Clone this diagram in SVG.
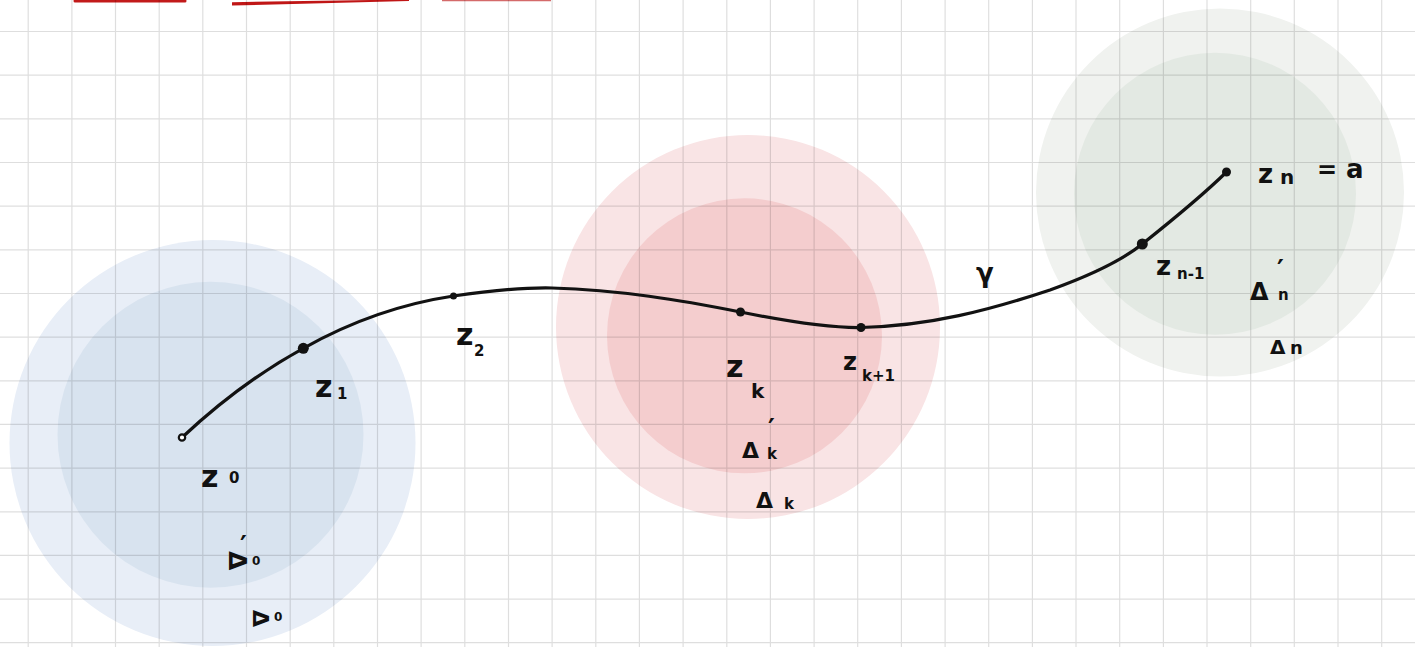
<svg xmlns="http://www.w3.org/2000/svg" width="1415" height="647" viewBox="0 0 1415 647">
<style>
.grid{stroke:rgba(0,0,0,0.13);stroke-width:1.2;fill:none}
.curve{fill:none;stroke:#121212;stroke-width:3.2;stroke-linecap:round}
.pt{fill:#121212}
.lab{font-family:"DejaVu Sans","Liberation Sans",sans-serif;font-weight:bold;fill:#111}
.big{font-size:30px}
.mid{font-size:22px}
.sm{font-size:15px}
.pr{font-size:26px}
</style>
<rect width="1415" height="647" fill="#ffffff"/>
<g id="red-strokes">
<line x1="75" y1="1" x2="185" y2="1" stroke="#c21a1a" stroke-width="3" stroke-linecap="round"/>
<path d="M232,2.2 L409,-0.6 L409,1 L232,5.6 Z" fill="#c01616"/>
<line x1="442" y1="0" x2="551" y2="0" stroke="#d46a6a" stroke-width="2.4"/>
</g>
<g id="disk-0">
<circle cx="212.5" cy="443" r="203" fill="#e8eef7"/>
<circle cx="210.5" cy="434.7" r="153" fill="#d8e3ef"/>
</g>
<g id="disk-k">
<circle cx="748" cy="327" r="192" fill="#f9e4e5"/>
<circle cx="744.5" cy="335.8" r="137.5" fill="#f4cdce"/>
</g>
<g id="disk-n">
<circle cx="1220" cy="192.5" r="184" fill="#f0f2ef"/>
<circle cx="1215" cy="193.7" r="141" fill="#e3e9e3"/>
</g>
<path class="grid" d="M28.2,0V647M71.9,0V647M115.5,0V647M159.2,0V647M202.8,0V647M246.5,0V647M290.2,0V647M333.8,0V647M377.5,0V647M421.1,0V647M464.8,0V647M508.5,0V647M552.1,0V647M595.8,0V647M639.4,0V647M683.1,0V647M726.8,0V647M770.4,0V647M814.1,0V647M857.7,0V647M901.4,0V647M945.1,0V647M988.7,0V647M1032.4,0V647M1076,0V647M1119.7,0V647M1163.4,0V647M1207,0V647M1250.7,0V647M1294.3,0V647M1338,0V647M1381.7,0V647M0,31.5H1415M0,75.2H1415M0,118.8H1415M0,162.5H1415M0,206.1H1415M0,249.8H1415M0,293.5H1415M0,337.1H1415M0,380.8H1415M0,424.4H1415M0,468.1H1415M0,511.8H1415M0,555.4H1415M0,599.1H1415M0,642.7H1415"/>
<g id="connectors">
<path class="curve" d="M182,437.5 C220,402 260,372 303.3,348.3 C350,322 400,304 453.5,296 C490,290.5 525,287.5 552,288 C620,290 680,300 740.5,312 C790,322 830,328 861,327.5 C930,326 990,310 1050,290 C1100,272 1125,258 1142.3,244 C1175,218 1205,193 1226.5,172"/>
</g>
<g id="z0">
<circle cx="182" cy="437.5" r="3.2" fill="#ffffff" stroke="#121212" stroke-width="2.2"/>
<text class="lab big" x="201" y="487">z<tspan class="sm" x="229" y="483">0</tspan></text>
</g>
<g id="z1">
<circle class="pt" cx="303.3" cy="348.3" r="5.5"/>
<text class="lab big" x="315" y="397">z<tspan class="sm" x="337" y="399">1</tspan></text>
</g>
<g id="z2">
<circle class="pt" cx="453.5" cy="296" r="3.5"/>
<text class="lab big" x="456" y="345">z<tspan class="sm" x="474" y="356">2</tspan></text>
</g>
<g id="zk">
<circle class="pt" cx="740.5" cy="312" r="4.5"/>
<text class="lab big" x="726" y="377">z<tspan style="font-size:20px" x="751" y="398">k</tspan></text>
</g>
<g id="zk1">
<circle class="pt" cx="861" cy="327.5" r="4.5"/>
<text class="lab" style="font-size:24px" x="843" y="370">z<tspan class="sm" x="862" y="381">k+1</tspan></text>
</g>
<g id="gamma">
<text class="lab" style="font-size:26px" x="976" y="282">γ</text>
</g>
<g id="zn1">
<circle class="pt" cx="1142.3" cy="244" r="5.5"/>
<text class="lab" style="font-size:26px" x="1156" y="275">z<tspan class="sm" x="1177" y="279">n-1</tspan></text>
</g>
<g id="zn">
<circle class="pt" cx="1226.5" cy="172" r="4.5"/>
<text class="lab" style="font-size:26px" x="1258" y="183">z<tspan style="font-size:20px" x="1280" y="184">n</tspan><tspan style="font-size:24px" x="1317" y="178">=</tspan><tspan x="1346" y="178">a</tspan></text>
</g>
<g id="delta0p">
<text class="lab" style="font-size:25px" transform="rotate(90 238 560)" x="229" y="569">Δ</text>
<text class="lab" x="240" y="555"><tspan class="pr">′</tspan><tspan style="font-size:12px" x="252" y="565">0</tspan></text>
</g>
<g id="delta0">
<text class="lab" style="font-size:22px" transform="rotate(90 261 618)" x="253" y="626">Δ</text>
<text class="lab" style="font-size:12px" x="274" y="621">0</text>
</g>
<g id="deltakp">
<text class="lab mid" x="742" y="458">Δ<tspan class="pr" x="768" y="438">′</tspan><tspan class="sm" x="767" y="459">k</tspan></text>
</g>
<g id="deltak">
<text class="lab mid" x="756" y="508">Δ<tspan class="sm" x="784" y="509">k</tspan></text>
</g>
<g id="deltanp">
<text class="lab" style="font-size:24px" x="1250" y="300">Δ<tspan class="pr" x="1277" y="279">′</tspan><tspan class="sm" x="1278" y="300">n</tspan></text>
</g>
<g id="deltan">
<text class="lab" style="font-size:20px" x="1270" y="354">Δ<tspan style="font-size:18px" x="1290" y="354">n</tspan></text>
</g>
</svg>
